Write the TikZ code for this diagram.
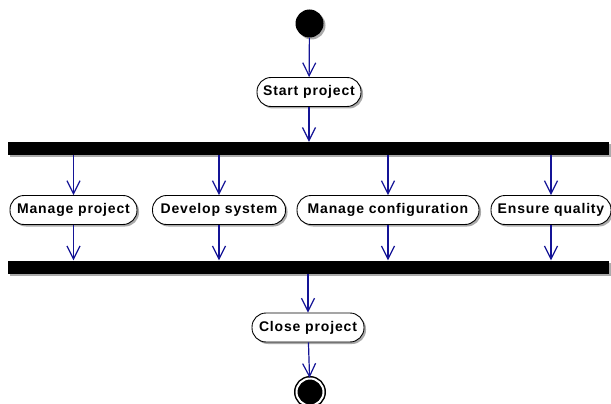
\documentclass[tikz,border=0pt]{standalone}
\usepackage{fontspec}
\setmainfont{Liberation Sans}
\newfontfamily\actfont[LetterSpace=6]{Liberation Sans}
\usetikzlibrary{arrows.meta,shadows}
\definecolor{flow}{RGB}{20,20,150}
\definecolor{shade}{RGB}{170,170,170}
\begin{document}
\begin{tikzpicture}[x=1pt,y=-1pt,
  act/.style={draw=black, line width=0.9pt, fill=white, rounded corners=14pt,
    minimum height=29pt, inner xsep=3pt, inner ysep=0pt,
    font=\actfont\bfseries\fontsize{14}{15}\selectfont,
    drop shadow={shadow xshift=2pt, shadow yshift=-2pt, fill=shade, opacity=1}},
  bar/.style={fill=black, draw=none, minimum width=601pt, minimum height=13pt, inner sep=0pt,
    drop shadow={shadow xshift=2pt, shadow yshift=-2pt, fill=shade, opacity=1}},
  arr/.style={draw=flow, line width=1.2pt, -{Straight Barb[length=13pt,width=13pt,line width=1.2pt]}},
]
\useasboundingbox (0,0) rectangle (611,404);
\node[circle, fill=black, minimum size=28pt, inner sep=0pt,
  drop shadow={shadow xshift=2pt, shadow yshift=-2pt, fill=shade, opacity=1}] (start) at (309.5,23.5) {};
\node[act, minimum width=104pt] (sp) at (309,92) {Start project};
\node[bar] (fork) at (308.5,148.5) {};
\node[act, minimum width=127pt] (mp) at (73.5,210) {Manage project};
\node[act, minimum width=133pt] (ds) at (219,210) {Develop system};
\node[act, minimum width=182pt] (mc) at (388,210) {Manage configuration};
\node[act, minimum width=120pt] (eq) at (551,210) {Ensure quality};
\node[bar] (join) at (308.5,267) {};
\node[act, minimum width=112pt] (cp) at (308,327.5) {Close project};
\node[circle, fill=black, draw=black, line width=1.5pt, minimum size=27pt, inner sep=0pt,
  double=white, double distance=2pt] (endo) at (310,392) {};
\node[circle, fill=black, minimum size=18pt, inner sep=0pt] (endi) at (endo) {};

\draw[arr] (start) -- (sp);
\draw[arr] (sp) -- (sp.south |- fork.north);
\foreach \n in {mp,ds,mc,eq}{
  \draw[arr] (fork.south -| \n.north) -- (\n);
  \draw[arr] (\n) -- (\n.south |- join.north);
}
\draw[arr] (join.south -| cp.north) -- (cp);
\draw[arr] (cp) -- (endo);
\end{tikzpicture}
\end{document}
